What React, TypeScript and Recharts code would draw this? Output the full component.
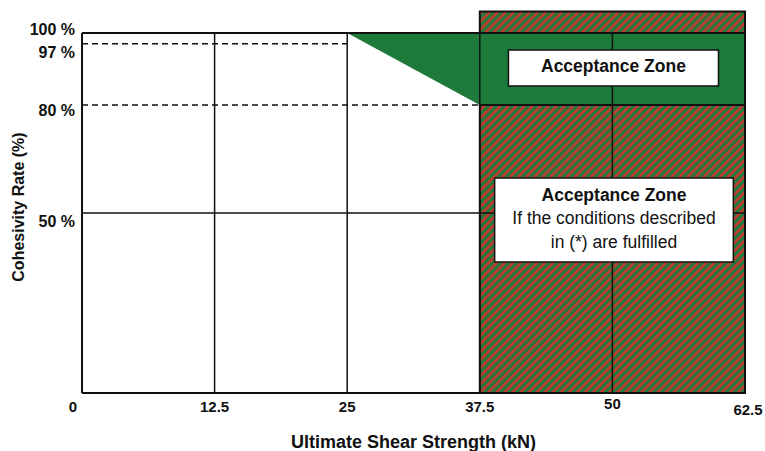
import React from 'react';
import { ComposedChart, Area, XAxis, YAxis, ReferenceLine, ReferenceArea } from 'recharts';

const xTicks = [0, 12.5, 25, 37.5, 50, 62.5];
const yTicks = [50, 80, 97, 100];
const yTickLabels: Record<number, string> = { 50: '50 %', 80: '80 %', 97: '97 %', 100: '100 %' };
const gridX = [12.5, 25, 37.5, 50];
const gridY = [50];
const dashedLevels = [
  { y: 97, xEnd: 25 },
  { y: 80, xEnd: 37.5 },
];
// green acceptance zone outline (lower/upper cohesivity bounds)
const greenZone = [
  { x: 25, r: [100, 100] },
  { x: 37.5, r: [80, 100] },
  { x: 62.5, r: [80, 100] },
];
const hatchZone = { x1: 37.5, x2: 62.5, y1: 0, y2: 106 };
const box1 = { x1: 40.2, x2: 60, y1: 85.3, y2: 95.3, lines: ['Acceptance Zone'] };
const box2 = {
  x1: 38.9,
  x2: 61.4,
  y1: 36.4,
  y2: 59.7,
  lines: ['Acceptance Zone', 'If the conditions described', 'in (*) are fulfilled'],
};

const GREEN = '#1d7a3b';
const RED = '#c23a2e';
const FONT = 'Arial, "Liberation Sans", sans-serif';

const XTick = (props: any) => {
  const { x, y, payload } = props;
  const v = payload.value;
  const dx = v === 0 ? -9 : v === 62.5 ? 3 : 0;
  const dy = v === 50 ? -3 : v === 62.5 ? 3 : 0;
  return (
    <text x={x + dx} y={y + 11 + dy} textAnchor="middle" fontFamily={FONT} fontWeight="bold" fontSize={15} fill="#111">
      {String(v)}
    </text>
  );
};

const yLabelShift: Record<number, number> = { 100: 2, 97: 14, 80: 11, 50: 14 };

const YTick = (props: any) => {
  const { x, y, payload } = props;
  const v = payload.value;
  return (
    <text x={x + 1} y={y + (yLabelShift[v] ?? 5)} textAnchor="end" fontFamily={FONT} fontWeight="bold" fontSize={16} fill="#111">
      {yTickLabels[v]}
    </text>
  );
};

const boxLabel = (lines: string[]) => (props: any) => {
  const vb = props.viewBox || {};
  const cx = vb.x + vb.width / 2;
  const cy = vb.y + vb.height / 2;
  const lh = 23.5;
  const start = cy - ((lines.length - 1) * lh) / 2 - 2;
  return (
    <g>
      {lines.map((t, i) => (
        <text
          key={i}
          x={cx}
          y={start + i * lh}
          dy={6}
          textAnchor="middle"
          fontFamily={FONT}
          fontWeight={i === 0 ? 'bold' : 'normal'}
          fontSize={17.5}
          fill="#111"
        >
          {t}
        </text>
      ))}
    </g>
  );
};

export default function App() {
  return (
    <div style={{ position: 'absolute', left: 0, top: 0, background: '#fff' }}>
      <ComposedChart
        width={765}
        height={451}
        data={greenZone}
        margin={{ top: 33, right: 20, left: 0, bottom: 0 }}
      >
        <defs>
          <pattern id="hatch" patternUnits="userSpaceOnUse" width="5.7" height="10" patternTransform="rotate(45)">
            <rect x="0" y="0" width="5.7" height="10" fill={GREEN} />
            <rect x="0" y="0" width="2.7" height="10" fill={RED} />
          </pattern>
        </defs>
        <XAxis
          dataKey="x"
          type="number"
          domain={[0, 62.5]}
          ticks={xTicks}
          interval={0}
          height={58}
          tickLine={false}
          axisLine={{ stroke: '#111', strokeWidth: 2 }}
          tick={<XTick />}
          allowDataOverflow
          label={{
            value: 'Ultimate Shear Strength (kN)',
            position: 'insideBottom',
            offset: 3,
            style: { fontFamily: FONT, fontWeight: 'bold', fontSize: 18, fill: '#111' },
          }}
        />
        <YAxis
          type="number"
          domain={[0, 100]}
          ticks={yTicks}
          interval={0}
          width={82}
          tickLine={false}
          axisLine={false}
          tick={<YTick />}
          allowDataOverflow
          label={{
            content: () => (
              <text
                x={18}
                y={207}
                transform="rotate(-90 18 207)"
                textAnchor="middle"
                dominantBaseline="central"
                fontFamily={FONT}
                fontWeight="bold"
                fontSize={16}
                fill="#111"
              >
                Cohesivity Rate (%)
              </text>
            ),
          }}
        />
        <ReferenceArea
          x1={hatchZone.x1}
          x2={hatchZone.x2}
          y1={hatchZone.y1}
          y2={hatchZone.y2}
          ifOverflow="visible"
          fill="url(#hatch)"
          fillOpacity={1}
          stroke="#111"
          strokeWidth={2}
        />
        <Area
          dataKey="r"
          type="linear"
          stroke="none"
          fill={GREEN}
          fillOpacity={1}
          isAnimationActive={false}
          dot={false}
          activeDot={false}
        />
        {gridX.map((x) => (
          <ReferenceLine key={'gx' + x} x={x} stroke="#111" strokeWidth={1.5} />
        ))}
        {gridY.map((y) => (
          <ReferenceLine key={'gy' + y} y={y} stroke="#111" strokeWidth={1.5} />
        ))}
        {dashedLevels.map((d) => (
          <ReferenceLine
            key={'d' + d.y}
            segment={[
              { x: 0, y: d.y },
              { x: d.xEnd, y: d.y },
            ]}
            stroke="#111"
            strokeWidth={1.5}
            strokeDasharray="6 4"
          />
        ))}
        <ReferenceLine segment={[{ x: 37.5, y: 80 }, { x: 62.5, y: 80 }]} stroke="#111" strokeWidth={2} />
        <ReferenceLine y={100} stroke="#111" strokeWidth={2} />
        <ReferenceLine x={0} stroke="#111" strokeWidth={2} />
        <ReferenceLine x={62.5} stroke="#111" strokeWidth={2} />
        <ReferenceArea
          x1={box1.x1}
          x2={box1.x2}
          y1={box1.y1}
          y2={box1.y2}
          fill="#fff"
          fillOpacity={1}
          stroke="#111"
          strokeWidth={1.5}
          zIndex={2000}
          label={boxLabel(box1.lines)}
        />
        <ReferenceArea
          x1={box2.x1}
          x2={box2.x2}
          y1={box2.y1}
          y2={box2.y2}
          fill="#fff"
          fillOpacity={1}
          stroke="#111"
          strokeWidth={1.5}
          zIndex={2000}
          label={boxLabel(box2.lines)}
        />
      </ComposedChart>
    </div>
  );
}
